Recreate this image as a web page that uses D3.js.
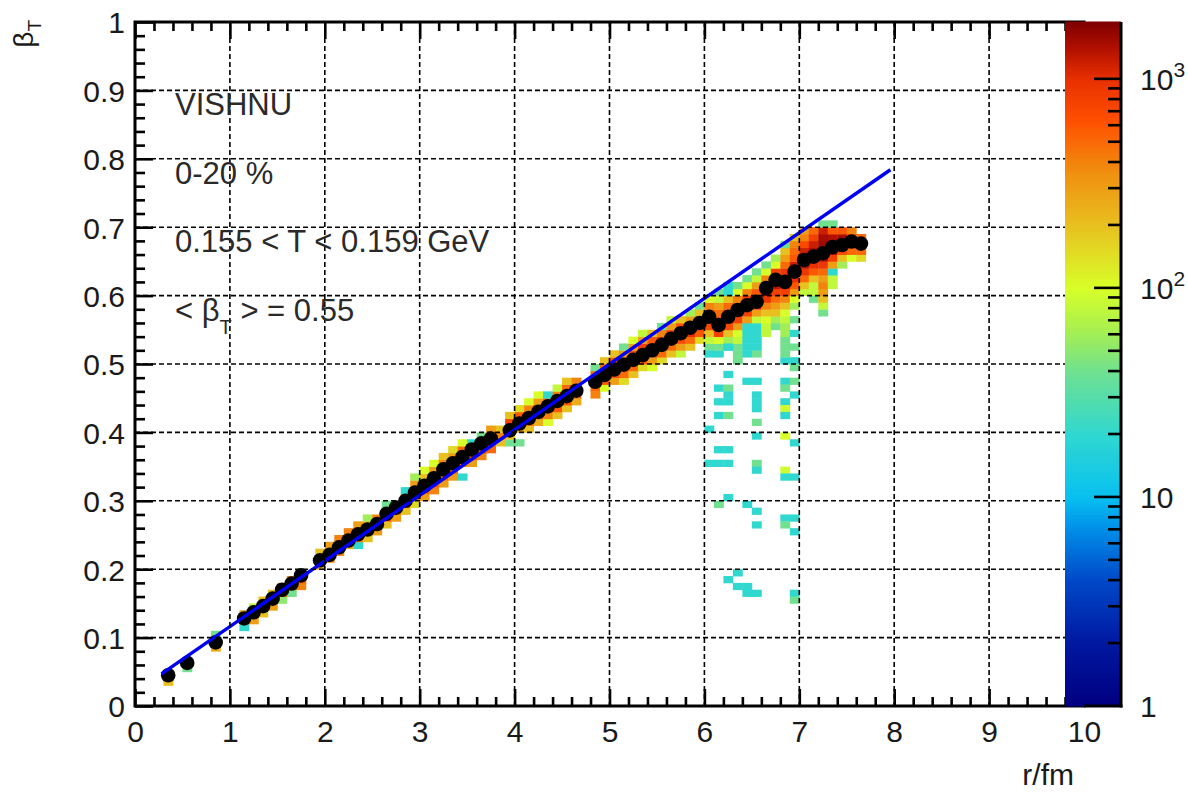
<!DOCTYPE html>
<html><head><meta charset="utf-8">
<script src="https://cdn.jsdelivr.net/npm/d3@7"></script>
<style>
body{margin:0;background:#fff}
svg{display:block}
text{font-family:"Liberation Sans",Arial,Helvetica,sans-serif}
</style>
</head><body>
<svg id="c" width="1188" height="792"></svg>
<script>
// ---------------- data ----------------
const xMajor = [0,1,2,3,4,5,6,7,8,9,10];
const yMajor = [0,0.1,0.2,0.3,0.4,0.5,0.6,0.7,0.8,0.9,1];
const xLabels = ["0","1","2","3","4","5","6","7","8","9","10"];
const yLabels = ["0","0.1","0.2","0.3","0.4","0.5","0.6","0.7","0.8","0.9","1"];
const zMajor = [1,10,100,1000];
const zLabelBase = ["1","10","10","10"];
const zLabelExp = ["","","2","3"];
const zMax = 1870;

// profile (black markers): bin centre r, mean beta_T
const profR = [0.35,0.55,0.85,1.15,1.25,1.35,1.45,1.55,1.65,1.75,1.95,2.05,2.15,2.25,2.35,2.45,2.55,2.65,2.75,2.85,
  2.95,3.05,3.15,3.25,3.35,3.45,3.55,3.65,3.75,3.95,4.05,4.15,4.25,4.35,4.45,4.55,4.65,4.85,4.95,
  5.05,5.15,5.25,5.35,5.45,5.55,5.65,5.75,5.85,5.95,6.05,6.15,6.25,6.35,6.45,6.55,6.65,6.75,6.85,6.95,
  7.05,7.15,7.25,7.35,7.45,7.55,7.65];
const profB = [0.045,0.063,0.093,0.128,0.137,0.146,0.157,0.170,0.179,0.191,0.213,0.221,0.232,0.242,0.251,0.258,0.266,0.281,0.290,0.300,
  0.312,0.322,0.333,0.346,0.355,0.364,0.375,0.384,0.391,0.403,0.413,0.421,0.430,0.438,0.446,0.453,0.461,0.474,0.484,
  0.492,0.499,0.506,0.513,0.520,0.528,0.537,0.545,0.553,0.560,0.569,0.557,0.569,0.579,0.586,0.591,0.611,0.623,0.620,0.635,
  0.652,0.657,0.662,0.671,0.674,0.679,0.676];

// linear fit line end points
const fitR = [0.28, 7.96];
const fitB = [0.047, 0.784];

// 2D histogram, column runs: [r bin centre, lowest beta bin centre, counts (0 = empty)]
const bandCols = [
 [0.35,0.035,[200,300]],
 [0.55,0.055,[40,500]],
 [0.85,0.085,[250,600,40]],
 [1.15,0.115,[20,500,300]],
 [1.25,0.125,[300,500,80]],
 [1.35,0.135,[200,500,200]],
 [1.45,0.145,[300,600,200]],
 [1.55,0.155,[50,500,300]],
 [1.65,0.165,[40,600,400]],
 [1.75,0.175,[400,600,500]],
 [1.95,0.205,[300,600,200]],
 [2.05,0.215,[400,600,300]],
 [2.15,0.225,[400,600,400]],
 [2.25,0.235,[250,600,400]],
 [2.35,0.235,[20,400,600,300]],
 [2.45,0.245,[200,500,300,60]],
 [2.55,0.255,[300,600,400]],
 [2.65,0.265,[200,600,400,40]],
 [2.75,0.275,[300,500,300]],
 [2.85,0.285,[200,600,500,20]],
 [2.95,0.295,[150,400,700,300,60]],
 [3.05,0.305,[300,500,800,200,100]],
 [3.15,0.315,[400,600,700,300,100]],
 [3.25,0.325,[300,500,800,400,200]],
 [3.35,0.335,[300,500,800,300,150]],
 [3.45,0.335,[20,0,400,800,500,100]],
 [3.55,0.355,[300,600,800,20]],
 [3.65,0.365,[400,700,800,40]],
 [3.75,0.375,[500,700,800,300]],
 [3.85,0.385,[200,400,200]],
 [3.95,0.385,[40,200,700,800,200]],
 [4.05,0.385,[40,0,300,700,600,150]],
 [4.15,0.405,[200,500,800,400,100]],
 [4.25,0.415,[250,600,800,300,100]],
 [4.35,0.415,[100,400,800,500,20]],
 [4.45,0.425,[200,600,800,400,80]],
 [4.55,0.435,[200,600,800,500,200]],
 [4.65,0.445,[250,500,800,400]],
 [4.85,0.455,[400,500,800,500,40]],
 [4.95,0.465,[100,600,900,500,200]],
 [5.05,0.475,[300,600,900,600,200]],
 [5.15,0.475,[150,500,900,700,300,40]],
 [5.25,0.485,[200,500,1000,700,300,100]],
 [5.35,0.495,[150,600,1000,800,300,80]],
 [5.45,0.495,[100,300,800,1000,600,200]],
 [5.55,0.505,[150,500,1000,900,400,40]],
 [5.65,0.515,[200,500,1100,800,300,80]],
 [5.75,0.515,[80,300,700,1100,600,200]],
 [5.85,0.525,[200,500,1000,900,300,60]],
 [5.95,0.535,[150,600,1000,800,200,40]],
 [6.05,0.525,[40,80,200,700,900,600,400,100]],
 [6.15,0.515,[20,40,100,800,1000,600,500,300,80,40]],
 [6.25,0.525,[20,60,200,700,1200,800,500,200,20,20]],
 [6.35,0.515,[40,40,80,100,300,800,1200,700,400,100,40]],
 [6.45,0.515,[20,20,20,20,20,300,800,1300,800,400,100,40]],
 [6.55,0.515,[40,20,20,20,20,80,300,1000,1300,600,300,80,40]],
 [6.65,0.545,[80,80,100,200,400,900,1400,1000,400,100,40]],
 [6.75,0.555,[40,60,200,300,500,800,1300,1400,800,100,60]],
 [6.85,0.505,[20,40,40,40,60,60,80,100,200,400,800,1200,1500,900,500,300,200,40]],
 [6.95,0.505,[20,0,40,0,20,0,40,0,60,100,300,600,1000,1500,1200,600,500,400,200]],
 [7.05,0.605,[80,200,500,900,1400,1700,1200,700,400,300]],
 [7.15,0.595,[40,80,80,200,600,1000,1600,1500,1200,800,500]],
 [7.25,0.575,[40,80,200,300,400,300,500,900,1500,1700,1600,1500,1200,40]],
 [7.35,0.615,[80,80,20,300,800,1500,1700,1400,600,40]],
 [7.45,0.645,[60,200,700,1600,1500,600]],
 [7.55,0.655,[100,500,1200,900,400]],
 [7.65,0.655,[150,500,800,500]]
];
// sparse low-velocity tail cells: [r, beta, count]
const tailCells = [
 [6.15,0.465,20],[6.25,0.465,40],[6.25,0.455,20],[6.15,0.445,20],[6.25,0.445,20],
 [6.45,0.475,20],[6.55,0.475,20],[6.55,0.455,20],[6.55,0.445,20],[6.55,0.435,20],[6.55,0.415,40],
 [6.85,0.475,20],[6.95,0.475,40],[6.85,0.465,40],[6.95,0.455,20],[6.85,0.445,20],[6.85,0.435,90],[6.85,0.425,20],
 [6.15,0.425,20],[6.25,0.425,40],[6.05,0.405,20],[6.55,0.395,20],[6.85,0.395,100],[6.95,0.385,20],
 [6.15,0.375,20],[6.25,0.375,20],[6.05,0.355,20],[6.15,0.355,20],[6.25,0.355,20],
 [6.55,0.355,40],[6.55,0.345,20],[6.85,0.345,90],[6.85,0.335,20],[6.95,0.335,20],
 [6.25,0.305,20],[6.15,0.295,40],[6.45,0.295,20],[6.55,0.285,20],[6.55,0.265,20],
 [6.85,0.275,20],[6.95,0.275,20],[6.85,0.265,40],[6.95,0.255,20],
 [6.35,0.195,20],[6.25,0.185,20],[6.35,0.175,20],[6.45,0.175,20],[6.45,0.165,20],[6.55,0.165,20],
 [6.95,0.165,20],[6.95,0.155,40],
 [6.25,0.525,20],[6.35,0.505,40],[6.25,0.485,20],[6.05,0.515,20],[6.95,0.495,40]
];

// palette: log10(count) -> colour
const palLog = [0,0.3,0.6,0.85,1.0,1.3,1.6,1.8,2.0,2.3,2.55,2.8,3.0,3.15,Math.log10(zMax)];
const palHex = ["#000080","#0018a0","#0048c8","#0090e8","#08c0f0","#30d8d0","#70e090","#a8f050","#d8ff28",
                "#e8c020","#f09010","#ff5000","#e83000","#b01000","#800000"];

const notes = [
  {y:0.9, parts:[["VISHNU",0]]},
  {y:0.8, parts:[["0-20 %",0]]},
  {y:0.7, parts:[["0.155 < T < 0.159 GeV",0]]},
  {y:0.6, parts:[["< β",0],["T",1],[" > = 0.55",-1]]}
];

// ---------------- drawing ----------------
const W=1188,H=792;
const L=135,R=1084,T=22,B=706;
const svg=d3.select("#c");
svg.append("rect").attr("width",W).attr("height",H).attr("fill","#fff");
const x=d3.scaleLinear().domain([0,10]).range([L,R]);
const y=d3.scaleLinear().domain([0,1]).range([B,T]);
const pal=d3.scaleLinear().domain(palLog).range(palHex).interpolate(d3.interpolateRgb).clamp(true);
const col=n=>pal(Math.log10(n));
const binW=0.1, binH=0.01;

svg.append("clipPath").attr("id","fr").append("rect").attr("x",L).attr("y",T).attr("width",R-L).attr("height",B-T);
const plot=svg.append("g").attr("clip-path","url(#fr)");

// cells
const cells=[];
bandCols.forEach(([r,b0,ns])=>ns.forEach((n,i)=>{ if(n>0) cells.push([r,b0+i*binH,n]); }));
tailCells.forEach(c=>cells.push(c));
plot.append("g").selectAll("rect").data(cells).join("rect")
  .attr("x",d=>x(d[0]-binW/2)).attr("y",d=>y(d[1]+binH/2))
  .attr("width",d=>x(d[0]+binW/2)-x(d[0]-binW/2)+0.4)
  .attr("height",d=>y(d[1]-binH/2)-y(d[1]+binH/2)+0.4)
  .attr("fill",d=>col(d[2]));

// grid
const grid=svg.append("g").attr("stroke","#000").attr("stroke-width",1.6).attr("stroke-dasharray","5,3");
grid.selectAll(".gx").data(xMajor.slice(1,-1)).join("line")
  .attr("x1",d=>x(d)).attr("x2",d=>x(d)).attr("y1",T).attr("y2",B);
grid.selectAll(".gy").data(yMajor.slice(1,-1)).join("line")
  .attr("y1",d=>y(d)).attr("y2",d=>y(d)).attr("x1",L).attr("x2",R);

// axes
const xMinor=d3.range(0,10.001,0.2).filter(v=>Math.abs(v-Math.round(v))>1e-6);
const yMinor=d3.range(0,1.0001,0.02).filter(v=>Math.abs(v*10-Math.round(v*10))>1e-6);
function styleAx(g){g.select(".domain").remove();g.selectAll("line").attr("stroke","#000").attr("stroke-width",2.6);
  g.selectAll("text").attr("font-size",30).attr("fill","#1a1a1a");}
svg.append("g").attr("transform",`translate(0,${B})`)
  .call(d3.axisBottom(x).tickValues(xMajor).tickFormat((d,i)=>xLabels[i]).tickSizeInner(-17).tickSizeOuter(0).tickPadding(15)).call(styleAx);
svg.append("g").attr("transform",`translate(0,${B})`)
  .call(d3.axisBottom(x).tickValues(xMinor).tickFormat("").tickSizeInner(-9).tickSizeOuter(0)).call(styleAx);
svg.append("g").attr("transform",`translate(0,${T})`)
  .call(d3.axisTop(x).tickValues(xMajor).tickFormat("").tickSizeInner(-17).tickSizeOuter(0)).call(styleAx);
svg.append("g").attr("transform",`translate(0,${T})`)
  .call(d3.axisTop(x).tickValues(xMinor).tickFormat("").tickSizeInner(-9).tickSizeOuter(0)).call(styleAx);
const ya=svg.append("g").attr("transform",`translate(${L},0)`)
  .call(d3.axisLeft(y).tickValues(yMajor).tickFormat((d,i)=>yLabels[i]).tickSizeInner(-18).tickSizeOuter(0).tickPadding(10)).call(styleAx);
ya.selectAll("text").attr("dy","0.36em");
svg.append("g").attr("transform",`translate(${L},0)`)
  .call(d3.axisLeft(y).tickValues(yMinor).tickFormat("").tickSizeInner(-10).tickSizeOuter(0)).call(styleAx);

// frame
svg.append("rect").attr("x",L).attr("y",T).attr("width",R-L).attr("height",B-T)
  .attr("fill","none").attr("stroke","#000").attr("stroke-width",3);

// profile markers
plot.append("g").selectAll("circle").data(profR.map((r,i)=>[r,profB[i]])).join("circle")
  .attr("cx",d=>x(d[0])).attr("cy",d=>y(d[1])).attr("r",7.3).attr("fill","#000");

// fit line
plot.append("line").attr("x1",x(fitR[0])).attr("y1",y(fitB[0])).attr("x2",x(fitR[1])).attr("y2",y(fitB[1]))
  .attr("stroke","#0000f5").attr("stroke-width",3.4);

// colour bar
const pb={x0:1065,x1:1121};
const z=d3.scaleLog().domain([1,zMax]).range([B,T]);
const steps=d3.range(0,301).map(i=>Math.pow(zMax,i/300));
const cb=svg.append("g");
cb.selectAll("rect").data(steps.slice(0,-1)).join("rect")
  .attr("x",pb.x0).attr("width",pb.x1-pb.x0)
  .attr("y",(d,i)=>z(steps[i+1])-0.5).attr("height",(d,i)=>z(steps[i])-z(steps[i+1])+1)
  .attr("fill",(d,i)=>col(Math.sqrt(steps[i]*steps[i+1])));
cb.append("line").attr("x1",pb.x1).attr("x2",pb.x1).attr("y1",T).attr("y2",B+1.5).attr("stroke","#000").attr("stroke-width",3);
cb.append("line").attr("x1",R).attr("x2",pb.x1+1.5).attr("y1",B).attr("y2",B).attr("stroke","#000").attr("stroke-width",3);
const zMinor=[];
[1,10,100,1000].forEach(dec=>{for(let k=2;k<=9;k++){const v=dec*k; if(v<zMax) zMinor.push(v);}});
cb.selectAll(".zmaj").data(zMajor.slice(1)).join("line")
  .attr("x1",pb.x1-27).attr("x2",pb.x1).attr("y1",d=>z(d)).attr("y2",d=>z(d)).attr("stroke","#000").attr("stroke-width",2.6);
cb.selectAll(".zmin").data(zMinor).join("line")
  .attr("x1",pb.x1-13).attr("x2",pb.x1).attr("y1",d=>z(d)).attr("y2",d=>z(d)).attr("stroke","#000").attr("stroke-width",2.6);
zMajor.forEach((v,i)=>{
  const t=svg.append("text").attr("x",1140).attr("y",z(v)+11).attr("font-size",30).attr("fill","#1a1a1a").text(zLabelBase[i]);
  if(zLabelExp[i]) t.append("tspan").attr("dy",-13).attr("font-size",21).text(zLabelExp[i]);
});

// axis titles
svg.append("text").attr("x",R-10).attr("y",785).attr("text-anchor","end").attr("font-size",30).attr("fill","#1a1a1a").text("r/fm");
const yt=svg.append("text").attr("transform","translate(33,20) rotate(-90)").attr("text-anchor","end")
  .attr("font-size",28).attr("fill","#1a1a1a");
yt.append("tspan").text("β");
yt.append("tspan").attr("dy",8).attr("font-size",19).text("T");

// annotations
notes.forEach(nt=>{
  const t=svg.append("text").attr("x",175).attr("y",y(nt.y)+25).attr("font-size",31).attr("fill","#2a2a2a");
  nt.parts.forEach(([s,sh])=>{
    const ts=t.append("tspan").text(s);
    if(sh===1) ts.attr("dy",13).attr("font-size",20);
    if(sh===-1) ts.attr("dy",-13);
  });
});
</script>
</body></html>
